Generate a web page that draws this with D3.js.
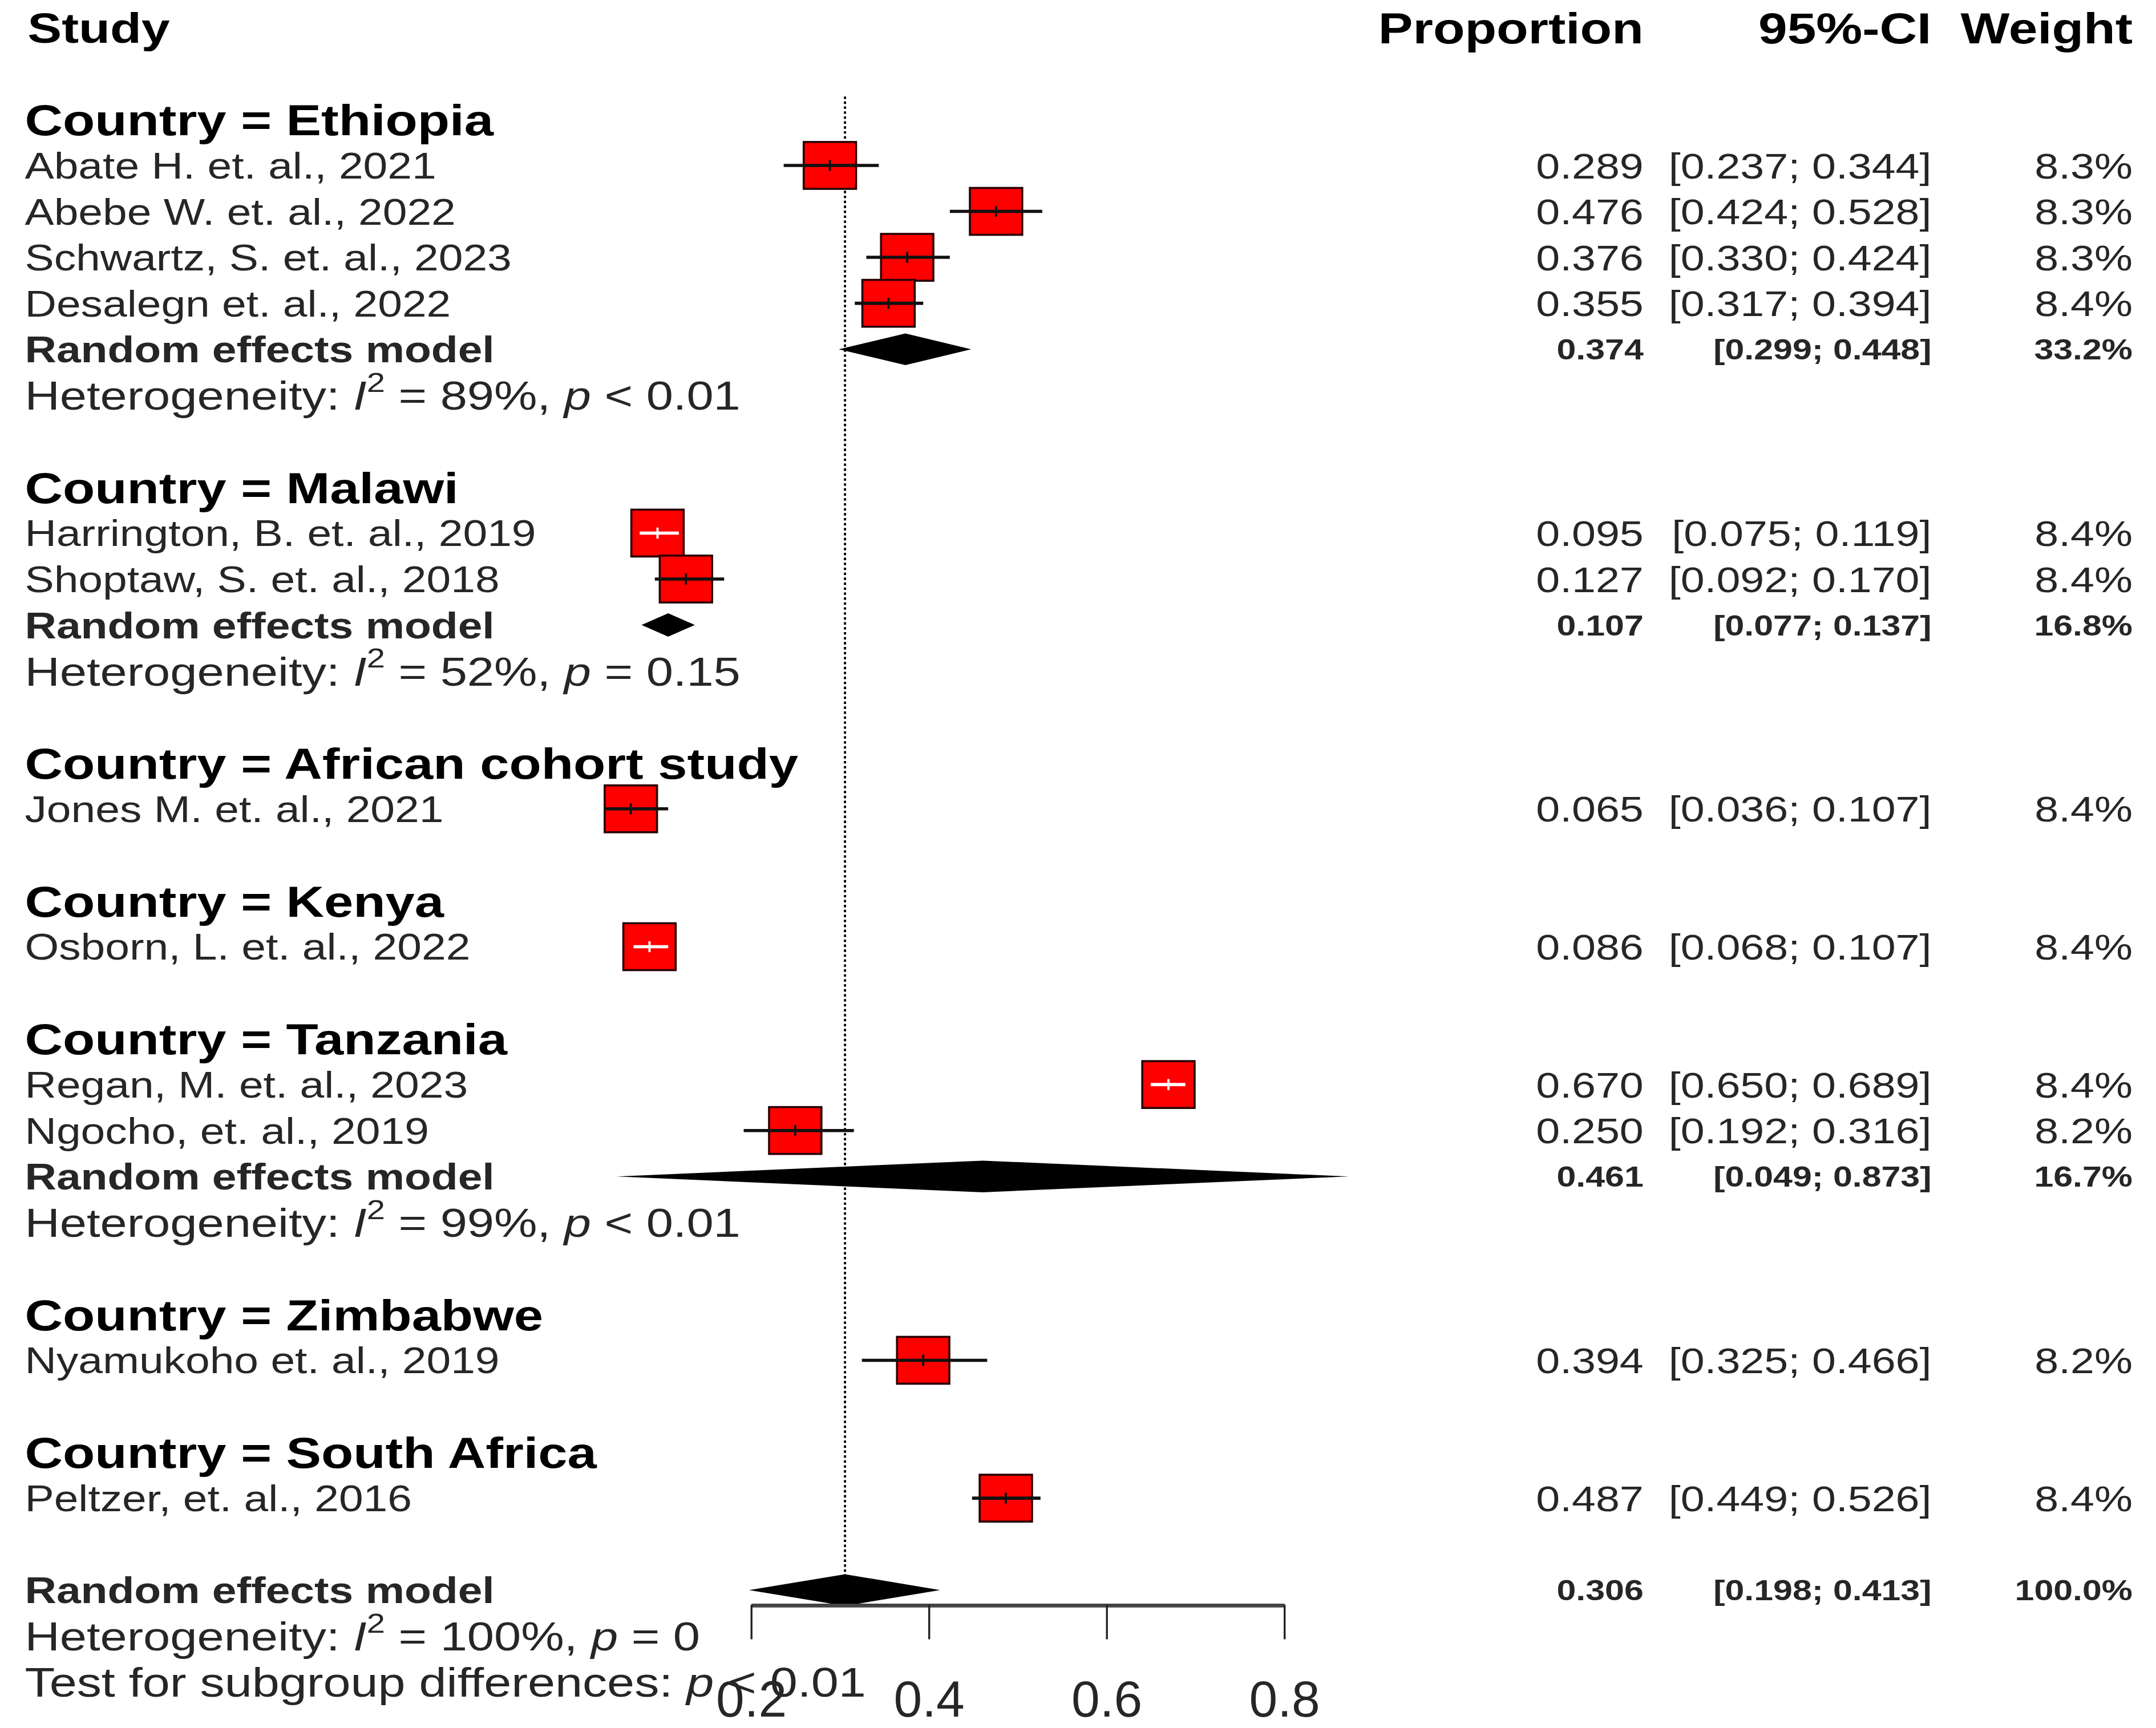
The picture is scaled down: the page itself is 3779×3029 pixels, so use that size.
<!DOCTYPE html>
<html>
<head>
<meta charset="utf-8">
<script src="https://cdn.jsdelivr.net/npm/d3@7"></script>
<style>
  html, body { margin: 0; padding: 0; background: #fff; }
  svg { display: block; }
  text { white-space: pre; }
</style>
</head>
<body>
<div id="chart"></div>
<script>
// study rows
const groups = ["Ethiopia", "Malawi", "African cohort study", "Kenya", "Tanzania", "Zimbabwe", "South Africa"];
const studyNames = [
  "Abate H. et. al., 2021", "Abebe W. et. al., 2022", "Schwartz, S. et. al., 2023", "Desalegn et. al., 2022",
  "Harrington, B. et. al., 2019", "Shoptaw, S. et. al., 2018",
  "Jones M. et. al., 2021",
  "Osborn, L. et. al., 2022",
  "Regan, M. et. al., 2023", "Ngocho, et. al., 2019",
  "Nyamukoho et. al., 2019",
  "Peltzer, et. al., 2016"
];
const studyGroup  = [0, 0, 0, 0, 1, 1, 2, 3, 4, 4, 5, 6];
const studyProp   = [0.289, 0.476, 0.376, 0.355, 0.095, 0.127, 0.065, 0.086, 0.670, 0.250, 0.394, 0.487];
const studyLower  = [0.237, 0.424, 0.330, 0.317, 0.075, 0.092, 0.036, 0.068, 0.650, 0.192, 0.325, 0.449];
const studyUpper  = [0.344, 0.528, 0.424, 0.394, 0.119, 0.170, 0.107, 0.107, 0.689, 0.316, 0.466, 0.526];
const studyWeight = [8.3, 8.3, 8.3, 8.4, 8.4, 8.4, 8.4, 8.4, 8.4, 8.2, 8.2, 8.4];

// subgroup random effects models (null = single study, no pooled row)
const groupProp   = [0.374, 0.107, null, null, 0.461, null, null];
const groupLower  = [0.299, 0.077, null, null, 0.049, null, null];
const groupUpper  = [0.448, 0.137, null, null, 0.873, null, null];
const groupWeight = [33.2, 16.8, null, null, 16.7, null, null];
const groupI2     = [89, 52, null, null, 99, null, null];
const groupP      = ["< 0.01", "= 0.15", null, null, "< 0.01", null, null];

// overall model
const overallProp = 0.306;
const overallLower = 0.198;
const overallUpper = 0.413;
const overallWeight = 100.0;
const overallI2 = 100;
const overallP = "= 0";
const subgroupTestP = "< 0.01";

const xTicks = [0.2, 0.4, 0.6, 0.8];

// ---- layout ----
const W = 1565, H = 1254.4;
const SX = 1.2;          // the source picture is stretched sideways, text too
const FONT = "'Liberation Sans', Arial, Helvetica, sans-serif";
const GREY = "#262626";
const colProp = 1193, colCI = 1402, colW = 1548, colLeft = 18;

const svg = d3.select("#chart").append("svg")
  .attr("width", 3779)
  .attr("height", 3029)
  .attr("viewBox", `0 0 ${W} ${H}`)
  .attr("preserveAspectRatio", "none");

const x = d3.scaleLinear().domain([0.2, 0.8]).range([545, 932]);
const y = d3.scaleLinear().domain([0, 36]).range([20, 1221]);
const axisY = 1165;

const f3 = d3.format(".3f");
const f1 = d3.format(".1f");

function addText(px, row, size, opts = {}) {
  const g = svg.append("g")
    .attr("transform", `translate(${px},${y(row) + 0.36 * size}) scale(${SX},1)`);
  return g.append("text")
    .attr("font-family", FONT)
    .attr("font-size", size)
    .attr("font-weight", opts.bold ? "bold" : "normal")
    .attr("text-anchor", opts.anchor || "start")
    .attr("fill", opts.color || "#000");
}

function hetText(row, i2, p) {
  const t = addText(colLeft, row, 29.3, {color: GREY});
  t.append("tspan").text("Heterogeneity: ");
  t.append("tspan").attr("font-style", "italic").text("I");
  t.append("tspan").attr("font-size", 20).attr("dy", -13).text("2");
  t.append("tspan").attr("dy", 13).text(` = ${i2}%, `);
  t.append("tspan").attr("font-style", "italic").text("p");
  t.append("tspan").text(" " + p);
}

function diamond(row, p, lo, hi) {
  const cy = y(row);
  const h = Math.min(11.5, (x(hi) - x(lo)) * 0.22);
  svg.append("path")
    .attr("d", `M${x(lo)},${cy}L${x(p)},${cy - h}L${x(hi)},${cy}L${x(p)},${cy + h}Z`)
    .attr("fill", "#000");
}

function pooledNumbers(row, p, lo, hi, w) {
  addText(colProp, row, 21, {bold: true, anchor: "end", color: GREY}).text(f3(p));
  addText(colCI, row, 21, {bold: true, anchor: "end", color: GREY}).text(`[${f3(lo)}; ${f3(hi)}]`);
  addText(colW, row, 21, {bold: true, anchor: "end", color: GREY}).text(f1(w) + "%");
}

// column headers
addText(20, 0, 31, {bold: true}).text("Study");
addText(colProp, 0, 31.4, {bold: true, anchor: "end"}).text("Proportion");
addText(colCI, 0, 31.4, {bold: true, anchor: "end"}).text("95%-CI");
addText(colW, 0, 31.4, {bold: true, anchor: "end"}).text("Weight");

// reference line at the overall estimate
svg.append("line")
  .attr("x1", x(overallProp)).attr("x2", x(overallProp))
  .attr("y1", y(1.5)).attr("y2", axisY)
  .attr("stroke", "#000").attr("stroke-width", 1.6)
  .attr("stroke-dasharray", "1.8,1.8");

// rows
let row = 2;
groups.forEach((gName, gi) => {
  addText(colLeft, row, 31.8, {bold: true}).text("Country = " + gName);
  row++;
  studyNames.forEach((name, i) => {
    if (studyGroup[i] !== gi) return;
    const cy = y(row);
    const cx = x(studyProp[i]);
    addText(colLeft, row, 26.5, {color: GREY}).text(name);
    addText(colProp, row, 26, {anchor: "end", color: GREY}).text(f3(studyProp[i]));
    addText(colCI, row, 26, {anchor: "end", color: GREY}).text(`[${f3(studyLower[i])}; ${f3(studyUpper[i])}]`);
    addText(colW, row, 26, {anchor: "end", color: GREY}).text(f1(studyWeight[i]) + "%");

    const bw = 38, bh = 34;
    svg.append("rect")
      .attr("x", cx - bw / 2).attr("y", cy - bh / 2)
      .attr("width", bw).attr("height", bh)
      .attr("fill", "#ff0000").attr("stroke", "#2a0000").attr("stroke-width", 1.5);
    const inside = x(studyLower[i]) >= cx - bw / 2 && x(studyUpper[i]) <= cx + bw / 2;
    const lc = inside ? "#fff" : "#111";
    svg.append("line")
      .attr("x1", x(studyLower[i])).attr("x2", x(studyUpper[i]))
      .attr("y1", cy).attr("y2", cy)
      .attr("stroke", lc).attr("stroke-width", 2.3);
    svg.append("line")
      .attr("x1", cx).attr("x2", cx)
      .attr("y1", cy - 4).attr("y2", cy + 4)
      .attr("stroke", lc).attr("stroke-width", 1.6);
    row++;
  });
  if (groupProp[gi] !== null) {
    addText(colLeft, row, 26.5, {bold: true, color: GREY}).text("Random effects model");
    diamond(row, groupProp[gi], groupLower[gi], groupUpper[gi]);
    pooledNumbers(row, groupProp[gi], groupLower[gi], groupUpper[gi], groupWeight[gi]);
    row++;
    hetText(row, groupI2[gi], groupP[gi]);
    row++;
  }
  row++;
});

// overall
addText(colLeft, row, 26.5, {bold: true, color: GREY}).text("Random effects model");
diamond(row, overallProp, overallLower, overallUpper);
pooledNumbers(row, overallProp, overallLower, overallUpper, overallWeight);
row++;

// axis
const axis = svg.append("g")
  .attr("transform", `translate(0,${axisY})`)
  .call(d3.axisBottom(x).tickValues(xTicks).tickSize(25).tickSizeOuter(0)
    .tickPadding(30).tickFormat(d3.format(".1f")));
axis.select(".domain").attr("stroke", "#444").attr("stroke-width", 2.8);
axis.selectAll(".tick line").attr("stroke", "#222").attr("stroke-width", 1.4);
axis.selectAll(".tick text")
  .attr("font-family", FONT).attr("font-size", 37).attr("fill", GREY);

hetText(row, overallI2, overallP);
row++;
const tt = addText(colLeft, row, 29.8, {color: GREY});
tt.append("tspan").text("Test for subgroup differences: ");
tt.append("tspan").attr("font-style", "italic").text("p");
tt.append("tspan").text(" " + subgroupTestP);
</script>
</body>
</html>
